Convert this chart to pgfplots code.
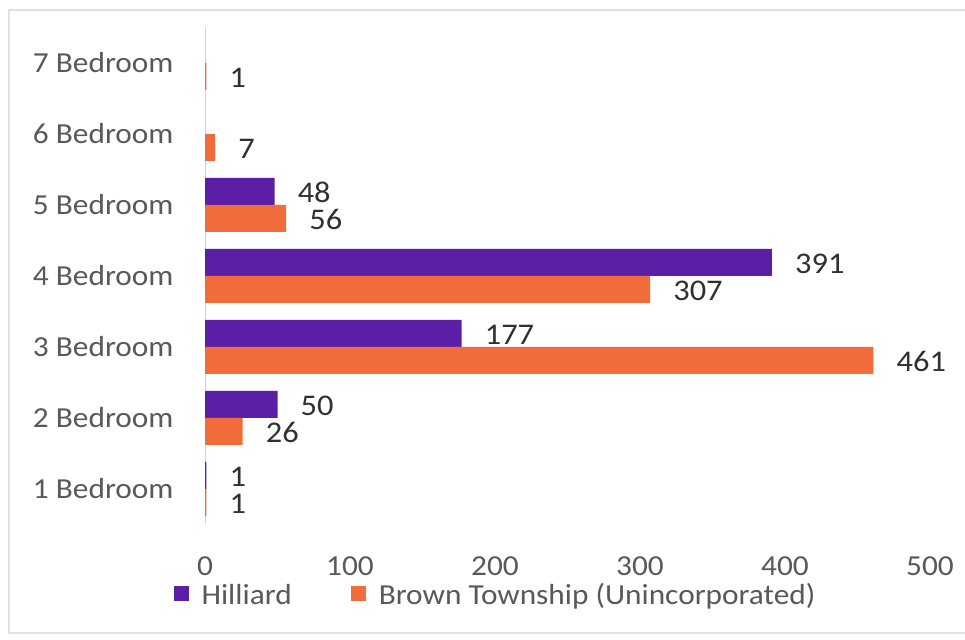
\documentclass[border=0pt]{standalone}
\usepackage{pgfplots}
\pgfplotsset{compat=1.18}
\usepackage{fontspec}
\setmainfont{Carlito}[FakeStretch=1.08]
\definecolor{hil}{HTML}{5A1FA6}
\definecolor{brn}{HTML}{F26B3A}
\definecolor{lbl}{HTML}{595959}
\definecolor{val}{HTML}{303030}
\begin{document}
\begin{tikzpicture}[x=1pt,y=1pt]
\useasboundingbox (0,0) rectangle (965,639);
\fill[white] (0,0) rectangle (965,639);
\draw[black!12, line width=1.2pt] (9,6) rectangle (980,629);
\begin{axis}[
  at={(205pt,114.5pt)}, anchor=south west,
  scale only axis, width=725pt, height=497pt,
  xbar, bar width=27pt,
  xmin=0, xmax=500, ymin=-0.5, ymax=6.5,
  xtick={0,100,...,500},
  ytick={0,...,6},
  yticklabels={1 Bedroom,2 Bedroom,3 Bedroom,4 Bedroom,5 Bedroom,6 Bedroom,7 Bedroom},
  major tick length=0pt,
  axis lines*=left,
  axis line style={-},
  x axis line style={draw=none},
  y axis line style={draw=black!18, line width=1pt},
  /pgf/number format/assume math mode=true,
  ticklabel style={font=\fontsize{29}{33}\selectfont, text=lbl},
  yticklabel style={xshift=-28pt},
  xticklabel style={inner sep=1pt, text depth=0pt, yshift=-31pt},
  nodes near coords,
  every node near coord/.append style={font=\fontsize{30}{34}\selectfont, text=val, anchor=west,
    inner sep=1pt, text depth=0pt, text height=19pt, xshift=22pt, yshift=-2pt},
  legend style={at={(0.40,-0.14)}, anchor=center, draw=none, fill=none, legend columns=2,
    font=\fontsize{29}{33}\selectfont, text=lbl,
    nodes={inner sep=1pt, text depth=0pt},
    /tikz/every odd column/.append style={column sep=12pt},
    /tikz/every even column/.append style={column sep=58pt}},
  legend image code/.code={\fill[#1] (0pt,-7pt) rectangle (15pt,8pt);},
]
\addplot[draw=none, fill=hil, bar shift=13.5pt] coordinates {(1,0) (50,1) (177,2) (391,3) (48,4)};
\addplot[draw=none, fill=brn, bar shift=-13.5pt] coordinates {(1,0) (26,1) (461,2) (307,3) (56,4) (7,5) (1,6)};
\legend{Hilliard, Brown Township (Unincorporated)}
\end{axis}
\end{tikzpicture}
\end{document}
